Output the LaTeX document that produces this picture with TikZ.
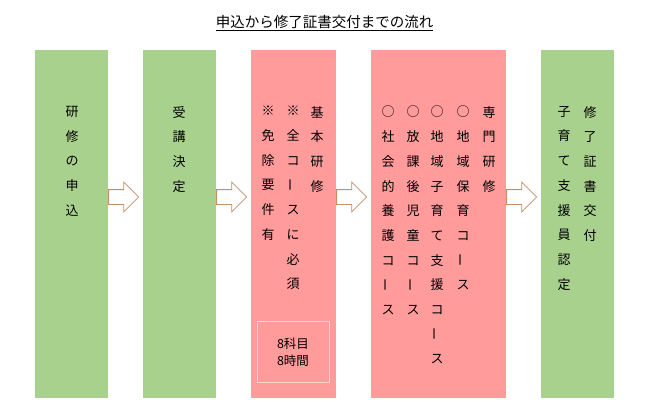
\documentclass[tikz,border=0pt]{standalone}
\usepackage{fontspec}
\setmainfont{Noto Sans CJK JP}
\usepackage{graphicx}
\usetikzlibrary{shapes.arrows}
\definecolor{boxgreen}{HTML}{A9D18E}
\definecolor{boxpink}{HTML}{FF9B9B}
\definecolor{arrowc}{HTML}{C4906A}
\definecolor{framec}{HTML}{FFD3D3}
\newcommand{\vbar}{\raisebox{2pt}{\rotatebox[origin=c]{90}{ー}}}
\begin{document}
\begin{tikzpicture}[x=1pt,y=-1pt,
  stage/.style={rectangle, inner sep=0pt, minimum height=348pt},
  greenbox/.style={stage, fill=boxgreen, minimum width=73pt},
  pinkbox/.style={stage, fill=boxpink},
  col/.style={anchor=north, align=center, inner sep=0pt,
    font=\fontsize{13}{24.7}\selectfont, execute at begin node={\vphantom{国}}},
  blockarrow/.style={single arrow, draw=arrowc, fill=white, line width=0.8pt,
    minimum height=30pt, single arrow head extend=7.5pt, inner xsep=0pt,
    inner ysep=7pt, anchor=tail},
  framebox/.style={draw=framec, line width=1pt, minimum width=72pt, minimum height=61pt,
    inner sep=0pt, align=center, font=\fontsize{12.5}{17}\selectfont}
]
\useasboundingbox (0,0) rectangle (650,418);
% title
\node[font=\fontsize{14.5}{16}\selectfont, inner sep=0pt] (title) at (324.5,23) {\underline{申込から修了証書交付までの流れ}};
% boxes
\node[greenbox] (b1) at (71.5,224) {};
\node[greenbox] (b2) at (179.5,224) {};
\node[pinkbox, minimum width=85pt] (b3) at (293.5,224) {};
\node[pinkbox, minimum width=135pt] (b4) at (438.5,224) {};
\node[greenbox] (b5) at (577.5,224) {};
% arrows
\node[blockarrow] (a1) at (b1.east |- 0,197) {};
\node[blockarrow] (a2) at (b2.east |- 0,197) {};
\node[blockarrow] (a3) at (b3.east |- 0,197) {};
\node[blockarrow] (a4) at (b4.east |- 0,197) {};
% texts
\node[col] (t1) at (72,106) {研\\修\\の\\申\\込};
\node[col] (t2) at (179,106) {受\\講\\決\\定};
\node[col] (t3a) at (317,106) {基\\本\\研\\修};
\node[col] (t3b) at (293,106) {※\\全\\コ\\\vbar\\ス\\に\\必\\須};
\node[col] (t3c) at (268,106) {※\\免\\除\\要\\件\\有};
\node[framebox] (fb) at (293,352) {8科目\\8時間};
\node[col] (t4a) at (489,106) {専\\門\\研\\修};
\node[col] (t4b) at (463,106) {○\\地\\域\\保\\育\\コ\\\vbar\\ス};
\node[col] (t4c) at (437,106) {○\\地\\域\\子\\育\\て\\支\\援\\コ\\\vbar\\ス};
\node[col] (t4d) at (413,106) {○\\放\\課\\後\\児\\童\\コ\\\vbar\\ス};
\node[col] (t4e) at (388,106) {○\\社\\会\\的\\養\\護\\コ\\\vbar\\ス};
\node[col] (t5a) at (590,106) {修\\了\\証\\書\\交\\付};
\node[col] (t5b) at (564,106) {子\\育\\て\\支\\援\\員\\認\\定};
\end{tikzpicture}
\end{document}
